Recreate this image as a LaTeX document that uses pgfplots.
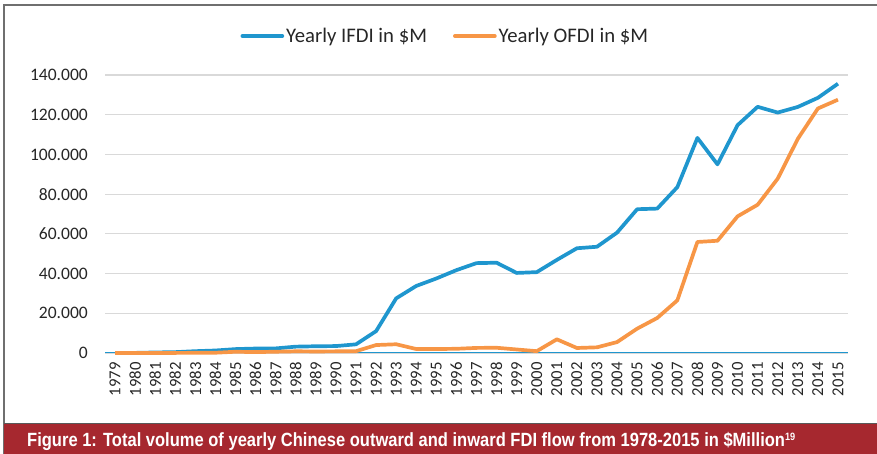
\documentclass[border=0pt]{standalone}
\usepackage{pgfplots}
\pgfplotsset{compat=1.18}
\usepackage{fontspec}
\setmainfont{Carlito}
\newfontfamily\capfont{Liberation Sans}
\definecolor{ifdi}{HTML}{1F96CE}
\definecolor{ofdi}{HTML}{F79646}
\definecolor{capred}{HTML}{A6282F}
\definecolor{gridc}{HTML}{D9D9D9}
\definecolor{framec}{HTML}{6F6F6F}
\pgfplotstableread{
year ifdi ofdi
1979 0 0
1980 57 0
1981 265 0
1982 430 44
1983 916 93
1984 1258 134
1985 1959 629
1986 2244 450
1987 2314 645
1988 3194 850
1989 3393 780
1990 3487 830
1991 4366 913
1992 11008 4000
1993 27515 4400
1994 33767 2000
1995 37521 2000
1996 41726 2114
1997 45257 2563
1998 45463 2634
1999 40319 1775
2000 40715 916
2001 46878 6885
2002 52743 2518
2003 53505 2855
2004 60630 5498
2005 72406 12261
2006 72715 17634
2007 83521 26506
2008 108312 55907
2009 95000 56529
2010 114734 68811
2011 123985 74654
2012 121080 87804
2013 123911 107844
2014 128500 123120
2015 135610 127560
}\datatable
\begin{document}
\begin{tikzpicture}[x=1bp,y=1bp]
\path[use as bounding box] (0,0) rectangle (877,454);
% frame
\draw[framec,line width=1.5bp] (4,0) -- (4,449) -- (877,449);
\fill[capred] (4,0) rectangle (877,31);
\draw[framec!80!black,line width=0.8bp] (4,31) -- (877,31);
\node[anchor=base west,inner sep=0pt,text=white] at (27,7.3)
  {\resizebox{768bp}{14.2bp}{\fontsize{18}{18}\selectfont\capfont\bfseries Figure 1: Total volume of yearly Chinese outward and inward FDI flow from 1978-2015 in \$Million\raisebox{6.2bp}{\fontsize{10}{10}\selectfont 19}}};
\begin{axis}[
  at={(105bp,101bp)}, anchor=south west,
  scale only axis, width=743bp, height=278bp,
  xmin=1978.5, xmax=2015.5, ymin=0, ymax=140000,
  axis line style={draw=none},
  xtick={1979,...,2015},
  ytick={0,20000,...,140000},
  yticklabels={0,20.000,40.000,60.000,80.000,100.000,120.000,140.000},
  scaled y ticks=false,
  /pgf/number format/.cd, 1000 sep={}, assume math mode=true, /pgfplots/.cd,
  ymajorgrids, major grid style={gridc,line width=1.2bp},
  tick style={draw=none},
  xticklabel shift=9bp,
  xticklabel style={rotate=90,anchor=east,font=\fontsize{16.8}{16.8}\selectfont,text=black!85,inner sep=0pt},
  yticklabel style={font=\fontsize{17.6}{17.6}\selectfont,text=black!85,anchor=east,inner sep=0pt,xshift=-17bp},
  legend columns=2,
  legend style={at={(0.458,1.14)},anchor=center,draw=none,fill=none,
    font=\fontsize{20.8}{20.8}\selectfont,text=black!85,
    /tikz/every even column/.append style={column sep=24bp}},
  legend image code/.code={\draw[#1,line cap=round] (0bp,0bp) -- (40bp,0bp);},
  clip=false,
]
\draw[ifdi,line width=1bp] (axis cs:1978.5,0) -- (axis cs:2015.5,0);
\addplot[ifdi,line width=3.7bp,line join=round] table[x=year,y=ifdi]{\datatable};
\addlegendentry{Yearly IFDI in \$M}
\addplot[ofdi,line width=3.7bp,line join=round] table[x=year,y=ofdi]{\datatable};
\addlegendentry{Yearly OFDI in \$M}
\end{axis}
\end{tikzpicture}
\end{document}
